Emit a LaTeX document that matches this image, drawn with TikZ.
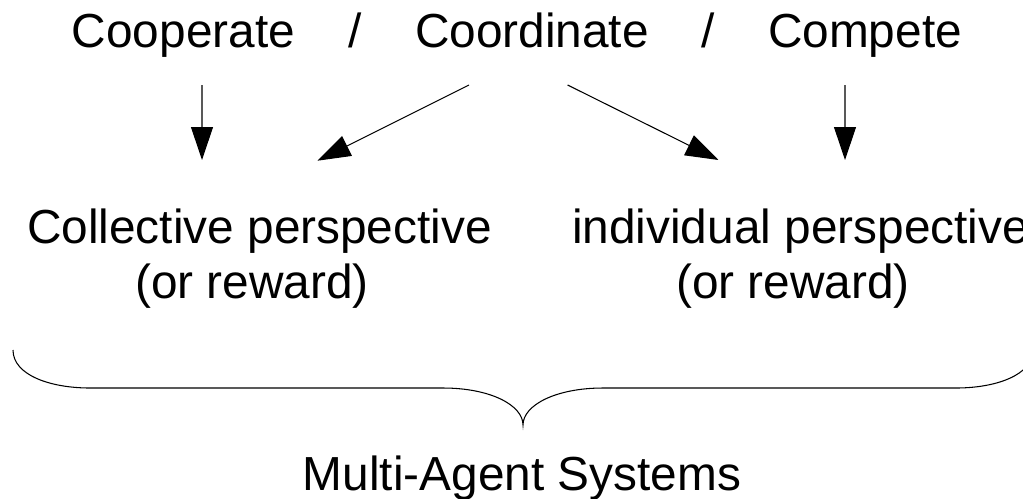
\documentclass[tikz,border=0pt]{standalone}
\usepackage{fontspec}
\setmainfont{Liberation Sans}
\usetikzlibrary{arrows.meta,calc}

\begin{document}
\begin{tikzpicture}[x=0.02cm,y=-0.02cm,
    txt/.style={font=\fontsize{27.2}{32}\selectfont,inner sep=0pt,anchor=base},
    pfeil/.style={-{Triangle[length=0.66cm,width=0.44cm]},line width=0.6pt}]
  % Rahmen
  \useasboundingbox (0,0) rectangle (1023,498);

  % obere Zeile
  \node[txt] (cooperate)  at (183.5,47) {Cooperate};
  \node[txt] (slashA)     at (355,47)   {/};
  \node[txt] (coordinate) at (532,47)   {Coordinate};
  \node[txt] (slashB)     at (708.5,47) {/};
  \node[txt] (compete)    at (865,47)   {Compete};

  % Perspektiven
  \node[txt] (collective)  at (259.5,243) {Collective perspective};
  \node[txt] (collectiveR) at (252,298)   {(or reward)};
  \node[txt] (individual)  at (800.5,243) {individual perspective};
  \node[txt] (individualR) at (793,298)   {(or reward)};

  % Pfeile
  \draw[pfeil] ($(cooperate.base)+(18.5,38)$) -- ($(collective.base)+(-57.5,-83)$);
  \draw[pfeil] ($(coordinate.base)+(-63,38)$) -- ($(collective.base)+(58,-82.3)$);
  \draw[pfeil] ($(coordinate.base)+(35.6,38)$) -- ($(individual.base)+(-82,-83)$);
  \draw[pfeil] ($(compete.base)+(-20,38)$)    -- ($(individual.base)+(44.5,-83)$);

  % Klammer
  \draw[line width=0.6pt] (13,350) .. controls (13,375) and (50,388) .. (90,388)
    -- (443,388) .. controls (490,388) and (523,405) .. (523,425)
    .. controls (523,405) and (556,388) .. (603,388)
    -- (956,388) .. controls (996,388) and (1033,375) .. (1033,350);

  % Unterschrift
  \node[txt] (mas) at (522,490) {Multi-Agent Systems};

\end{tikzpicture}
\end{document}
